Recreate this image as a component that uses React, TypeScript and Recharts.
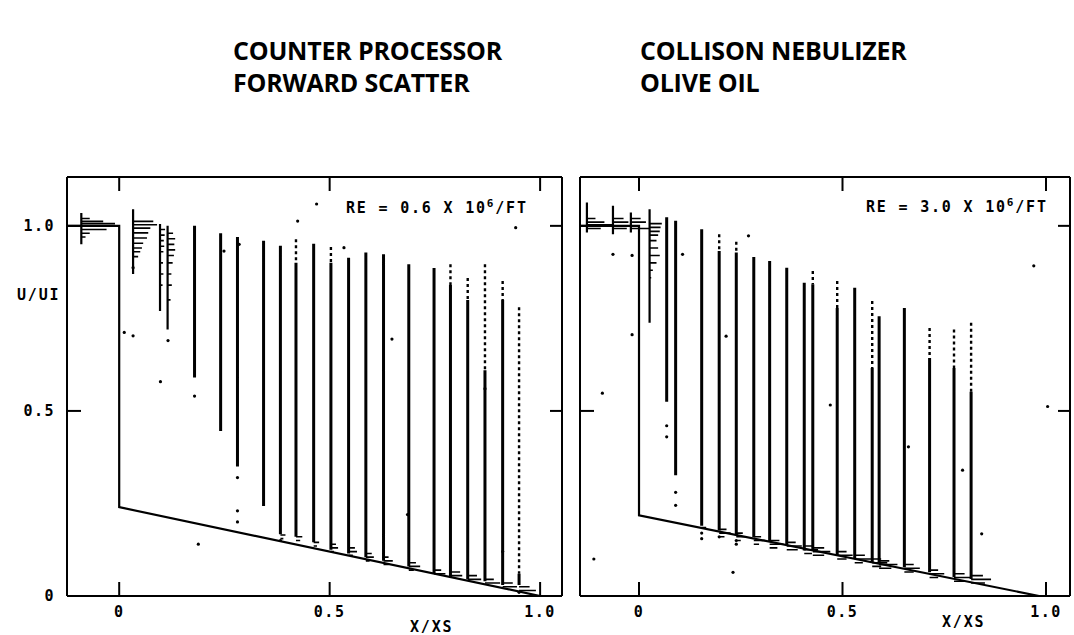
import React from 'react';
import { ComposedChart, Line, Scatter, XAxis, YAxis } from 'recharts';

// ---------- axis ticks ----------
const xTicks = [0, 0.5, 1.0];
const xTickLabels = ['0', '0.5', '1.0'];
const yTicks = [0, 0.5, 1.0];
const yTickLabels = ['0', '0.5', '1.0'];

const titleLeft = ['COUNTER PROCESSOR', 'FORWARD SCATTER'];
const titleRight = ['COLLISON NEBULIZER', 'OLIVE OIL'];
const reLeft = ['RE = 0.6 X 10', '6', '/FT'];
const reRight = ['RE = 3.0 X 10', '6', '/FT'];
const yAxisName = 'U/UI';
const xAxisName = 'X/XS';

const domainA: [number, number] = [-0.124, 1.052];
const domainB: [number, number] = [-0.145, 1.059];
const domainY: [number, number] = [0, 1.132];

// ---------- Panel A (RE = 0.6e6/ft) ----------
const stationXA = [0.179, 0.241, 0.281, 0.343, 0.383, 0.420, 0.462, 0.503, 0.545, 0.586, 0.628, 0.688, 0.748, 0.787, 0.828, 0.869, 0.911, 0.950];
const stationTopA = [1.00, 0.98, 0.97, 0.96, 0.946, 0.964, 0.952, 0.943, 0.914, 0.928, 0.923, 0.896, 0.886, 0.896, 0.859, 0.896, 0.851, 0.780];
const stationSolidTopA = [1.00, 0.98, 0.97, 0.96, 0.946, 0.90, 0.952, 0.90, 0.914, 0.928, 0.923, 0.896, 0.886, 0.84, 0.80, 0.61, 0.80, 0.06];
const stationBottomA = [0.59, 0.446, 0.35, 0.243, 0.167, 0.16, 0.145, 0.125, 0.115, 0.105, 0.095, 0.08, 0.06, 0.05, 0.045, 0.04, 0.03, 0.03];

const wallXA = [-0.124, 0, 0, 1.0];
const wallYA = [1.0, 1.0, 0.24, 0.0];

// upstream histogram stems: [x, top, bottom]
const histStemA: [number, number, number][] = [
  [-0.09, 1.035, 0.95],
  [0.033, 1.045, 0.87],
  [0.097, 1.005, 0.77],
  [0.115, 1.0, 0.72],
];
// histogram bars: [x start, y, x end]
const histBarA: [number, number, number][] = [
  [-0.09, 1.02, -0.07], [-0.09, 1.012, -0.038], [-0.09, 1.006, -0.01], [-0.09, 0.99, -0.03], [-0.09, 0.98, -0.07], [-0.09, 0.97, -0.08],
  [0.033, 1.012, 0.081], [0.033, 1.003, 0.09], [0.033, 0.994, 0.074], [0.033, 0.981, 0.069], [0.033, 0.967, 0.066],
  [0.033, 0.953, 0.057], [0.033, 0.94, 0.054], [0.033, 0.93, 0.05], [0.033, 0.917, 0.045],
  [0.097, 0.99, 0.109], [0.097, 0.975, 0.108], [0.097, 0.96, 0.106], [0.097, 0.945, 0.107], [0.097, 0.93, 0.105],
  [0.097, 0.9, 0.104], [0.097, 0.87, 0.105], [0.097, 0.84, 0.103],
  [0.115, 0.98, 0.128], [0.115, 0.965, 0.133], [0.115, 0.95, 0.131], [0.115, 0.935, 0.133], [0.115, 0.92, 0.13], [0.115, 0.9, 0.127],
  [0.115, 0.87, 0.124], [0.115, 0.84, 0.125], [0.115, 0.8, 0.122],
  // near-wall histograms
  [0.383, 0.165, 0.395], [0.383, 0.155, 0.39],
  [0.420, 0.16, 0.435], [0.420, 0.15, 0.43],
  [0.462, 0.145, 0.475], [0.462, 0.135, 0.47],
  [0.503, 0.14, 0.515], [0.503, 0.13, 0.52], [0.503, 0.12, 0.51],
  [0.545, 0.13, 0.56], [0.545, 0.12, 0.565], [0.545, 0.11, 0.555],
  [0.586, 0.115, 0.60], [0.586, 0.105, 0.605], [0.586, 0.095, 0.595],
  [0.628, 0.105, 0.64], [0.628, 0.095, 0.65], [0.628, 0.085, 0.64],
  [0.688, 0.09, 0.705], [0.688, 0.08, 0.715], [0.688, 0.07, 0.70],
  [0.748, 0.07, 0.765], [0.748, 0.06, 0.775],
  [0.787, 0.065, 0.81], [0.787, 0.055, 0.815],
  [0.828, 0.055, 0.85], [0.828, 0.045, 0.86],
  [0.869, 0.045, 0.89], [0.869, 0.035, 0.905],
  [0.911, 0.035, 0.935], [0.911, 0.025, 0.945],
  [0.950, 0.025, 0.975], [0.950, 0.015, 0.99],
];
const strayA: [number, number][] = [
  [0.469, 1.059], [0.424, 1.013], [0.942, 0.995], [0.012, 0.712], [0.033, 0.703], [0.098, 0.579],
  [0.648, 0.694], [0.188, 0.14], [0.685, 0.22], [0.534, 0.941], [0.285, 0.95], [0.249, 0.932],
  [0.281, 0.32], [0.281, 0.23], [0.281, 0.20], [0.179, 0.54], [0.116, 0.69], [0.033, 0.887],
  [0.383, 0.15], [0.869, 0.56], [0.911, 0.12], [0.95, 0.01],
];

// ---------- Panel B (RE = 3.0e6/ft) ----------
const stationXB = [0.068, 0.090, 0.154, 0.197, 0.239, 0.282, 0.321, 0.363, 0.406, 0.427, 0.487, 0.530, 0.573, 0.590, 0.652, 0.714, 0.774, 0.816];
const stationTopB = [1.023, 1.014, 0.991, 0.977, 0.957, 0.916, 0.905, 0.887, 0.846, 0.878, 0.851, 0.833, 0.797, 0.756, 0.778, 0.724, 0.720, 0.738];
const stationSolidTopB = [1.023, 1.014, 0.991, 0.932, 0.928, 0.916, 0.905, 0.887, 0.846, 0.842, 0.778, 0.833, 0.616, 0.756, 0.778, 0.643, 0.616, 0.552];
const stationBottomB = [0.525, 0.326, 0.19, 0.177, 0.164, 0.159, 0.146, 0.137, 0.123, 0.123, 0.109, 0.10, 0.091, 0.087, 0.078, 0.064, 0.051, 0.046];

const wallXB = [-0.145, 0, 0, 0.983];
const wallYB = [1.0, 1.0, 0.218, 0.0];

const histStemB: [number, number, number][] = [
  [-0.128, 1.063, 0.982],
  [-0.064, 1.054, 0.977],
  [-0.02, 1.036, 0.982],
  [0.026, 1.045, 0.738],
];
const histBarB: [number, number, number][] = [
  [-0.128, 1.02, -0.107], [-0.128, 1.01, -0.085], [-0.128, 1.003, -0.064], [-0.128, 0.993, -0.094],
  [-0.064, 1.02, -0.038], [-0.064, 1.01, -0.026], [-0.064, 0.993, -0.03],
  [-0.02, 1.02, 0.004], [-0.02, 1.01, 0.017], [-0.02, 0.993, 0.026],
  [0.026, 1.006, 0.056], [0.026, 0.996, 0.053], [0.026, 0.985, 0.051], [0.026, 0.975, 0.047], [0.026, 0.96, 0.043],
  [0.026, 0.94, 0.047], [0.026, 0.92, 0.051], [0.026, 0.9, 0.043], [0.026, 0.88, 0.034], [0.026, 0.86, 0.03],
  // near-wall histograms
  [0.154, 0.185, 0.165],
  [0.197, 0.18, 0.215], [0.197, 0.17, 0.225], [0.197, 0.16, 0.21],
  [0.239, 0.17, 0.255], [0.239, 0.16, 0.265], [0.239, 0.15, 0.25],
  [0.282, 0.16, 0.30], [0.282, 0.15, 0.31], [0.282, 0.14, 0.295],
  [0.321, 0.15, 0.345], [0.321, 0.14, 0.355], [0.321, 0.13, 0.34],
  [0.363, 0.145, 0.385], [0.363, 0.135, 0.40], [0.363, 0.125, 0.39],
  [0.406, 0.135, 0.43], [0.406, 0.125, 0.44], [0.406, 0.115, 0.425],
  [0.427, 0.13, 0.455], [0.427, 0.12, 0.47], [0.427, 0.11, 0.455],
  [0.487, 0.12, 0.51], [0.487, 0.11, 0.525], [0.487, 0.10, 0.51],
  [0.530, 0.11, 0.555], [0.530, 0.10, 0.57], [0.530, 0.09, 0.55],
  [0.573, 0.10, 0.595], [0.573, 0.09, 0.61], [0.573, 0.08, 0.595],
  [0.590, 0.095, 0.615], [0.590, 0.085, 0.635], [0.590, 0.075, 0.62],
  [0.652, 0.085, 0.675], [0.652, 0.075, 0.69], [0.652, 0.065, 0.675],
  [0.714, 0.07, 0.735], [0.714, 0.06, 0.75], [0.714, 0.05, 0.735],
  [0.774, 0.06, 0.80], [0.774, 0.05, 0.815], [0.774, 0.04, 0.80],
  [0.816, 0.055, 0.845], [0.816, 0.045, 0.865], [0.816, 0.035, 0.85],
];
const strayB: [number, number][] = [
  [0.269, 0.973], [-0.064, 0.923], [-0.017, 0.706], [0.107, 0.923], [0.214, 0.702], [0.842, 0.168],
  [0.795, 0.34], [1.004, 0.512], [0.97, 0.892], [-0.09, 0.548], [0.47, 0.516], [0.231, 0.064],
  [-0.111, 0.1], [0.662, 0.403], [0.068, 0.46], [0.068, 0.43], [0.09, 0.28], [0.09, 0.245],
  [0.154, 0.17], [0.154, 0.155], [0.197, 0.16], [0.239, 0.15], [0.239, 0.14], [-0.017, 0.92],
];

// ---------- helpers ----------
type P = { x: number; y: number | null };

function verticalSegs(xs: number[], tops: number[], bottoms: number[]): P[] {
  const out: P[] = [];
  xs.forEach((x, i) => {
    if (tops[i] > bottoms[i]) {
      out.push({ x, y: tops[i] }, { x, y: bottoms[i] }, { x, y: null });
    }
  });
  return out;
}
function stemSegs(stems: [number, number, number][]): P[] {
  return verticalSegs(stems.map((s) => s[0]), stems.map((s) => s[1]), stems.map((s) => s[2]));
}
function barSegs(bars: [number, number, number][]): P[] {
  const out: P[] = [];
  bars.forEach(([x0, y, x1]) => {
    out.push({ x: x0, y }, { x: x1, y }, { x: x1, y: null });
  });
  return out;
}
function polyline(xs: number[], ys: number[]): P[] {
  return xs.map((x, i) => ({ x, y: ys[i] }));
}
function dots(list: [number, number][]): P[] {
  return list.map(([x, y]) => ({ x, y }));
}

const MONO = '"DejaVu Sans Mono", monospace';
const axisStyle = { stroke: '#000', strokeWidth: 2 };
const tickStyle = { fill: '#000', fontSize: 15, fontFamily: MONO, fontWeight: 700, letterSpacing: 1.5 };
const blank = () => '';
const fmtX = (v: number) => xTickLabels[xTicks.indexOf(v)] ?? '';
const fmtY = (v: number) => yTickLabels[yTicks.indexOf(v)] ?? '';

const DotShape = (props: any) => <circle cx={props.cx} cy={props.cy} r={1.6} fill="#000" />;

type PanelProps = {
  width: number;
  margin: { top: number; right: number; bottom: number; left: number };
  leftWidth: number;
  domain: [number, number];
  showYLabels: boolean;
  solid: P[];
  dashed: P[];
  wall: P[];
  stems: P[];
  bars: P[];
  stray: P[];
};

function Panel(p: PanelProps) {
  return (
    <ComposedChart width={p.width} height={635} margin={p.margin}>
      <XAxis xAxisId="b" type="number" dataKey="x" domain={p.domain} allowDataOverflow ticks={xTicks}
        interval={0} tickFormatter={fmtX} orientation="bottom" height={39} tickSize={-14} tickMargin={24}
        axisLine={axisStyle} tickLine={axisStyle} tick={tickStyle} />
      <XAxis xAxisId="t" type="number" dataKey="x" domain={p.domain} allowDataOverflow ticks={xTicks}
        interval={0} tickFormatter={blank} orientation="top" height={1} tickSize={-14}
        axisLine={axisStyle} tickLine={axisStyle} tick={tickStyle} />
      <YAxis yAxisId="l" type="number" dataKey="y" domain={domainY} allowDataOverflow ticks={yTicks}
        interval={0} tickFormatter={p.showYLabels ? fmtY : blank} width={p.leftWidth} tickSize={-14} tickMargin={26}
        axisLine={axisStyle} tickLine={axisStyle} tick={tickStyle} />
      <YAxis yAxisId="r" orientation="right" type="number" dataKey="y" domain={domainY} allowDataOverflow ticks={[0.5, 1.0]}
        interval={0} tickFormatter={blank} width={1} tickSize={-12}
        axisLine={axisStyle} tickLine={axisStyle} tick={tickStyle} />
      <Line xAxisId="b" yAxisId="l" data={p.wall} dataKey="y" stroke="#000" strokeWidth={2.2}
        dot={false} isAnimationActive={false} connectNulls={false} />
      <Line xAxisId="b" yAxisId="l" data={p.dashed} dataKey="y" stroke="#000" strokeWidth={2.4} strokeDasharray="3 3"
        dot={false} isAnimationActive={false} connectNulls={false} />
      <Line xAxisId="b" yAxisId="l" data={p.solid} dataKey="y" stroke="#000" strokeWidth={3}
        dot={false} isAnimationActive={false} connectNulls={false} />
      <Line xAxisId="b" yAxisId="l" data={p.stems} dataKey="y" stroke="#000" strokeWidth={2.2}
        dot={false} isAnimationActive={false} connectNulls={false} />
      <Line xAxisId="b" yAxisId="l" data={p.bars} dataKey="y" stroke="#000" strokeWidth={1.6}
        dot={false} isAnimationActive={false} connectNulls={false} />
      <Scatter xAxisId="b" yAxisId="l" data={p.stray} dataKey="y" fill="#000" shape={DotShape} isAnimationActive={false} />
    </ComposedChart>
  );
}

const titleStyle: React.CSSProperties = {
  position: 'absolute', top: 34, fontFamily: '"Open Sans", sans-serif', fontWeight: 700,
  fontSize: 25, lineHeight: '32px', color: '#000', whiteSpace: 'nowrap', letterSpacing: -0.2,
};
const monoLabel: React.CSSProperties = {
  position: 'absolute', fontFamily: MONO, fontWeight: 700, fontSize: 15, letterSpacing: 1.8,
  color: '#000', whiteSpace: 'nowrap', lineHeight: '16px',
};

export default function App() {
  const solidA = verticalSegs(stationXA, stationSolidTopA, stationBottomA);
  const dashedA = verticalSegs(stationXA, stationTopA, stationSolidTopA);
  const solidB = verticalSegs(stationXB, stationSolidTopB, stationBottomB);
  const dashedB = verticalSegs(stationXB, stationTopB, stationSolidTopB);

  return (
    <div style={{ position: 'absolute', left: 0, top: 0, width: 1074, height: 635, background: '#fff', overflow: 'hidden' }}>
      <div style={{ position: 'absolute', left: 0, top: 0 }}>
        <Panel width={570} margin={{ top: 176, right: 7, bottom: 0, left: 0 }} leftWidth={67} domain={domainA}
          showYLabels solid={solidA} dashed={dashedA} wall={polyline(wallXA, wallYA)}
          stems={stemSegs(histStemA)} bars={barSegs(histBarA)} stray={dots(strayA)} />
      </div>
      <div style={{ position: 'absolute', left: 570, top: 0 }}>
        <Panel width={504} margin={{ top: 176, right: 3, bottom: 0, left: 0 }} leftWidth={10} domain={domainB}
          showYLabels={false} solid={solidB} dashed={dashedB} wall={polyline(wallXB, wallYB)}
          stems={stemSegs(histStemB)} bars={barSegs(histBarB)} stray={dots(strayB)} />
      </div>

      <div style={{ ...titleStyle, left: 233 }}>{titleLeft[0]}<br />{titleLeft[1]}</div>
      <div style={{ ...titleStyle, left: 640 }}>{titleRight[0]}<br />{titleRight[1]}</div>

      <div style={{ ...monoLabel, left: 346, top: 200 }}>
        {reLeft[0]}<span style={{ position: 'relative', top: -6, fontSize: 11 }}>{reLeft[1]}</span>{reLeft[2]}
      </div>
      <div style={{ ...monoLabel, left: 866, top: 199 }}>
        {reRight[0]}<span style={{ position: 'relative', top: -6, fontSize: 11 }}>{reRight[1]}</span>{reRight[2]}
      </div>

      <div style={{ ...monoLabel, left: 17, top: 287 }}>{yAxisName}</div>
      <div style={{ ...monoLabel, left: 410, top: 619 }}>{xAxisName}</div>
      <div style={{ ...monoLabel, left: 942, top: 614 }}>{xAxisName}</div>
    </div>
  );
}
